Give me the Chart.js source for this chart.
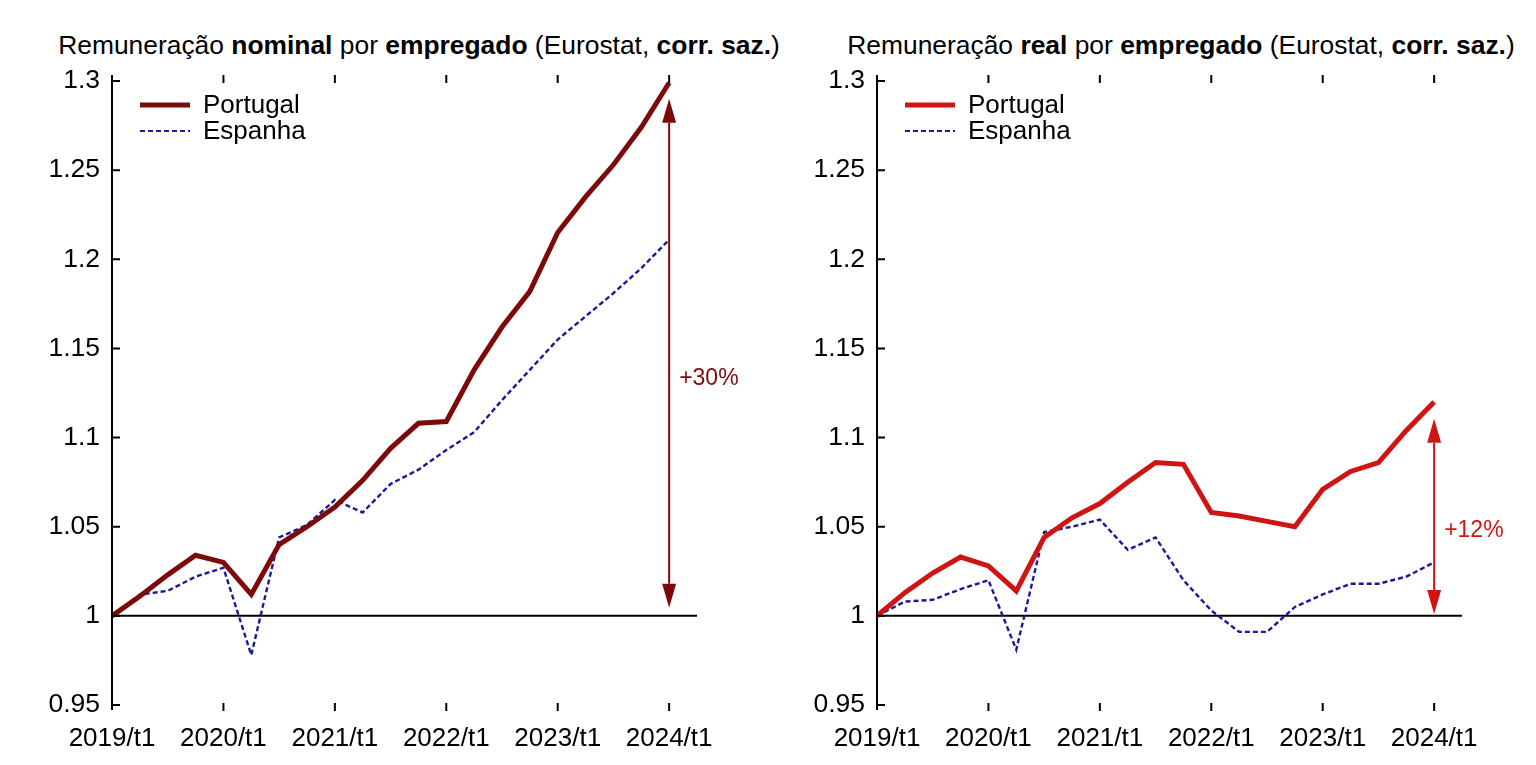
<!DOCTYPE html>
<html>
<head>
<meta charset="utf-8">
<script src="https://cdn.jsdelivr.net/npm/chart.js@4"></script>
<style>
  body { margin: 0; background: #fff; width: 1536px; height: 765px; overflow: hidden; position: relative;
         font-family: "Liberation Sans", Arial, sans-serif; }
  .title { position: absolute; top: 30px; font-size: 26.4px; line-height: 30px; white-space: nowrap;
           color: #000; transform: translateX(-50%); }
  .panel { position: absolute; top: 0; width: 768px; height: 765px; }
</style>
</head>
<body>
<div class="title" style="left:419px">Remuneração <b>nominal</b> por <b>empregado</b> (Eurostat, <b>corr. saz.</b>)</div>
<div class="title" style="left:1181px">Remuneração <b>real</b> por <b>empregado</b> (Eurostat, <b>corr. saz.</b>)</div>
<div class="panel" style="left:0"><canvas id="nominal" width="768" height="765"></canvas></div>
<div class="panel" style="left:768px"><canvas id="real" width="768" height="765"></canvas></div>
<script>
// quarters 2019/t1 .. 2024/t1, index 1.0 = 2019/t1
const quarters = [
  "2019/t1", "2019/t2", "2019/t3", "2019/t4",
  "2020/t1", "2020/t2", "2020/t3", "2020/t4",
  "2021/t1", "2021/t2", "2021/t3", "2021/t4",
  "2022/t1", "2022/t2", "2022/t3", "2022/t4",
  "2023/t1", "2023/t2", "2023/t3", "2023/t4",
  "2024/t1"
];
const yearTicks = ["2019/t1", "2020/t1", "2021/t1", "2022/t1", "2023/t1", "2024/t1"];
const seriesNames = ["Portugal", "Espanha"];

const ptNominal = [1.000, 1.011, 1.023, 1.034, 1.030, 1.012, 1.040, 1.050, 1.061, 1.076, 1.094,
                   1.108, 1.109, 1.138, 1.162, 1.182, 1.215, 1.235, 1.253, 1.274, 1.299];
const esNominal = [1.000, 1.012, 1.014, 1.022, 1.027, 0.978, 1.044, 1.051, 1.065, 1.058, 1.074,
                   1.082, 1.093, 1.103, 1.121, 1.138, 1.155, 1.168, 1.181, 1.195, 1.211];
const ptReal    = [1.000, 1.013, 1.024, 1.033, 1.028, 1.014, 1.044, 1.055, 1.063, 1.075, 1.086,
                   1.085, 1.058, 1.056, 1.053, 1.050, 1.071, 1.081, 1.086, 1.104, 1.120];
const esReal    = [1.000, 1.008, 1.009, 1.015, 1.020, 0.981, 1.047, 1.050, 1.054, 1.037, 1.044,
                   1.020, 1.003, 0.991, 0.991, 1.005, 1.012, 1.018, 1.018, 1.022, 1.030];

const FONT = '"Liberation Sans", Arial, sans-serif';
const SPAIN = "#1a1a96";

const toPoints = (vals) => vals.map((v, i) => ({ x: i, y: v }));

// axis frame, inward ticks, baseline, legend and the growth arrow
const decor = {
  id: "decor",
  beforeDatasetsDraw(chart) {
    const { ctx, chartArea: a, scales: { y } } = chart;
    const y1 = y.getPixelForValue(1);
    ctx.save();
    ctx.strokeStyle = "#000";
    ctx.lineWidth = 2;
    ctx.beginPath();
    ctx.moveTo(a.left, y1);
    ctx.lineTo(a.right, y1);
    ctx.stroke();
    ctx.restore();
  },
  afterDraw(chart, args, opts) {
    const { ctx, chartArea: a, scales: { x, y } } = chart;
    ctx.save();
    ctx.strokeStyle = "#000";
    ctx.lineWidth = 2;
    ctx.beginPath();
    ctx.moveTo(a.left, a.top - 6);
    ctx.lineTo(a.left, a.bottom + 5);
    y.ticks.forEach((t) => {
      const py = y.getPixelForValue(t.value);
      ctx.moveTo(a.left, py);
      ctx.lineTo(a.left + 8, py);
    });
    x.ticks.forEach((t) => {
      if (t.value === 0) return;
      const px = x.getPixelForValue(t.value);
      ctx.moveTo(px, a.top - 6);
      ctx.lineTo(px, a.top + 2);
      ctx.moveTo(px, a.bottom - 2);
      ctx.lineTo(px, a.bottom + 6);
    });
    ctx.stroke();

    // legend
    chart.data.datasets.forEach((ds, i) => {
      const ly = a.top + 24 + i * 26;
      ctx.strokeStyle = ds.borderColor;
      ctx.lineWidth = i === 0 ? 5 : 2;
      ctx.setLineDash(ds.borderDash || []);
      ctx.beginPath();
      ctx.moveTo(a.left + 28, ly);
      ctx.lineTo(a.left + 78, ly);
      ctx.stroke();
      ctx.setLineDash([]);
      ctx.fillStyle = "#000";
      ctx.font = "26px " + FONT;
      ctx.textBaseline = "middle";
      ctx.fillText(ds.label, a.left + 91, ly + 1);
    });

    // double arrow
    const ar = opts.arrow;
    const ax = x.getPixelForValue(ar.at);
    const top = y.getPixelForValue(ar.to);
    const bot = y.getPixelForValue(ar.from);
    const hl = 24, hw = 7;
    ctx.strokeStyle = ar.color;
    ctx.fillStyle = ar.color;
    ctx.lineWidth = 2;
    ctx.beginPath();
    ctx.moveTo(ax, top + hl);
    ctx.lineTo(ax, bot - hl);
    ctx.stroke();
    ctx.beginPath();
    ctx.moveTo(ax, top);
    ctx.lineTo(ax - hw, top + hl);
    ctx.lineTo(ax + hw, top + hl);
    ctx.closePath();
    ctx.moveTo(ax, bot);
    ctx.lineTo(ax - hw, bot - hl);
    ctx.lineTo(ax + hw, bot - hl);
    ctx.closePath();
    ctx.fill();
    ctx.font = "23px " + FONT;
    ctx.textBaseline = "middle";
    ctx.fillText(ar.label, ax + 10, y.getPixelForValue(ar.labelAt));
    ctx.restore();
  }
};

function makeChart(id, pt, es, ptColor, axisWidth, padRight, arrow) {
  return new Chart(document.getElementById(id), {
    type: "line",
    data: {
      datasets: [
        { label: seriesNames[0], data: toPoints(pt), borderColor: ptColor, borderWidth: 5,
          pointRadius: 0, tension: 0 },
        { label: seriesNames[1], data: toPoints(es), borderColor: SPAIN, borderWidth: 2.4,
          borderDash: [5, 3], pointRadius: 0, tension: 0 }
      ]
    },
    options: {
      responsive: false,
      animation: false,
      layout: { padding: { top: 81, right: padRight, left: 0, bottom: 0 } },
      plugins: {
        legend: { display: false },
        tooltip: { enabled: false },
        decor: { arrow: arrow }
      },
      scales: {
        x: {
          type: "linear",
          min: 0,
          max: quarters.length,
          afterBuildTicks: (s) => { s.ticks = yearTicks.map((q) => ({ value: quarters.indexOf(q) })); },
          afterFit: (s) => { s.height = 60; },
          grid: { display: false, drawTicks: false },
          border: { display: false },
          ticks: {
            padding: 18,
            color: "#000",
            font: { family: FONT, size: 26 },
            maxRotation: 0,
            autoSkip: false,
            callback: (v) => quarters[v]
          }
        },
        y: {
          min: 0.95,
          max: 1.3,
          afterFit: (s) => { s.width = axisWidth; },
          grid: { display: false, drawTicks: false },
          border: { display: false },
          ticks: {
            stepSize: 0.05,
            padding: 12,
            color: "#000",
            font: { family: FONT, size: 26.5 },
            callback: (v) => String(Math.round(v * 100) / 100)
          }
        }
      }
    },
    plugins: [decor]
  });
}

makeChart("nominal", ptNominal, esNominal, "#7d0a0a", 112, 71,
  { at: 20, from: 1.0045, to: 1.29, color: "#7d0a0a", label: "+30%", labelAt: 1.133 });
makeChart("real", ptReal, esReal, "#cf1414", 109, 74,
  { at: 20, from: 1.001, to: 1.1105, color: "#cf1414", label: "+12%", labelAt: 1.048 });
</script>
</body>
</html>
